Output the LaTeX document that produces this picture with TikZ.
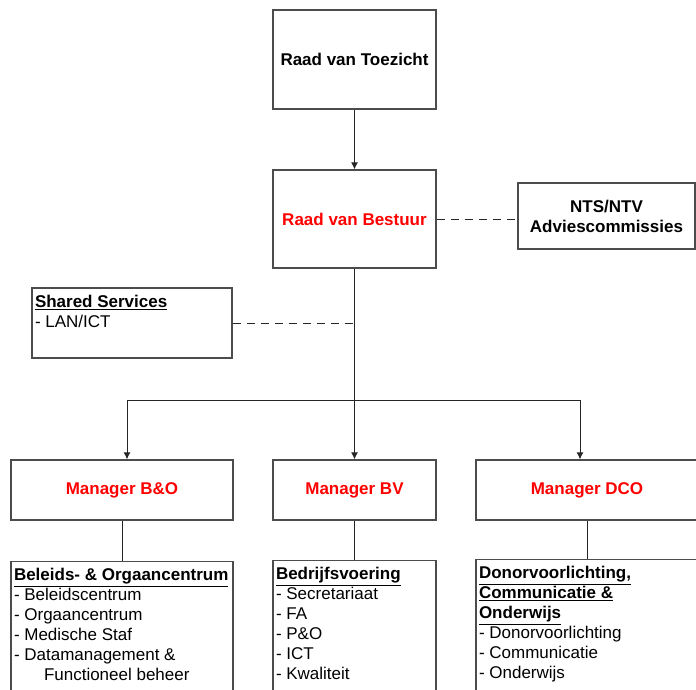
\documentclass[tikz,border=0pt]{standalone}
\usepackage{fontspec}
\setmainfont{Liberation Sans}
\usetikzlibrary{arrows.meta}
\definecolor{boxline}{gray}{0.3}
\definecolor{mgrred}{RGB}{255,0,0}
\tikzstyle{block}=[rectangle, draw=boxline, line width=1.3pt, align=center, inner sep=3pt, font=\fontsize{17}{20}\selectfont\bfseries]
\tikzstyle{manager}=[block, text=mgrred, minimum height=60pt]
\tikzstyle{listbox}=[rectangle, draw=boxline, line width=1.3pt, inner sep=3pt, font=\fontsize{17}{20}\selectfont]
\tikzstyle{conn}=[draw=black!85, line width=1pt]
\tikzstyle{connarrow}=[conn, -{Latex[length=7pt, width=7pt]}]
\tikzstyle{dashline}=[conn, dash pattern=on 8pt off 6pt]
\newcommand{\topbox}[3]{\parbox[c][#2][t]{#1}{\raggedright\vspace*{4pt}#3}}
\newcommand{\head}[1]{\underline{\textbf{#1}}}

\begin{document}
\begin{tikzpicture}[x=1pt, y=-1pt]
		   \useasboundingbox (0, 0) rectangle (696, 690);
		   \begin{scope}
			   \node (rvt) at (354.5, 59.5) [block, minimum width=163pt, minimum height=99pt] {Raad van Toezicht};
			   \node (rvb) at (354.5, 219) [block, text=mgrred, minimum width=163pt, minimum height=98pt] {Raad van Bestuur};
			   \node (nts) at (606.5, 216) [block, minimum width=177pt, minimum height=66pt] {NTS/NTV\\Adviescommissies};
			   \node (shared) at (132, 323) [listbox] {\topbox{194pt}{64pt}{\head{Shared Services}\\- LAN/ICT}};

			   \coordinate (ssjoin) at (354.5, 323);
			   \coordinate (trunk) at (354.5, 400);
			   \coordinate (left) at (127, 400);
			   \coordinate (right) at (580, 400);

			   \node (mbo) at (122, 490) [manager, minimum width=222pt] {Manager B\&O};
			   \node (mbv) at (354.5, 490) [manager, minimum width=163pt] {Manager BV};
			   \node (mdco) at (587, 490) [manager, minimum width=222pt] {Manager DCO};

			   \node (sbo) at (122, 561) [listbox, anchor=north] {\topbox{216pt}{140pt}{\head{Beleids- \& Orgaancentrum}\\- Beleidscentrum\\- Orgaancentrum\\- Medische Staf\\- Datamanagement \&\\\hspace*{30pt}Functioneel beheer}};
			   \node (sbv) at (354.5, 560) [listbox, anchor=north] {\topbox{157pt}{140pt}{\head{Bedrijfsvoering}\\- Secretariaat\\- FA\\- P\&O\\- ICT\\- Kwaliteit}};
			   \node (sdco) at (587, 559) [listbox, anchor=north] {\topbox{216pt}{140pt}{\head{Donorvoorlichting,}\\\head{Communicatie \&}\\\head{Onderwijs}\\- Donorvoorlichting\\- Communicatie\\- Onderwijs}};
		   \end{scope}
		   \begin{scope}
			   \path (rvt) edge [connarrow] (rvb);
			   \path (rvb) edge [conn] (trunk);
			   \path (rvb.east) edge [dashline] (rvb.east -| nts.west);
			   \path (shared) edge [dashline] (ssjoin);

			   \path (left) edge [conn] (right);
			   \path (left) edge [connarrow] (left |- mbo.north);
			   \path (trunk) edge [connarrow] (mbv);
			   \path (right) edge [connarrow] (right |- mdco.north);

			   \path (mbo) edge [conn] (sbo);
			   \path (mbv) edge [conn] (sbv);
			   \path (mdco) edge [conn] (sdco);
		   \end{scope}
	   \end{tikzpicture}
\end{document}
